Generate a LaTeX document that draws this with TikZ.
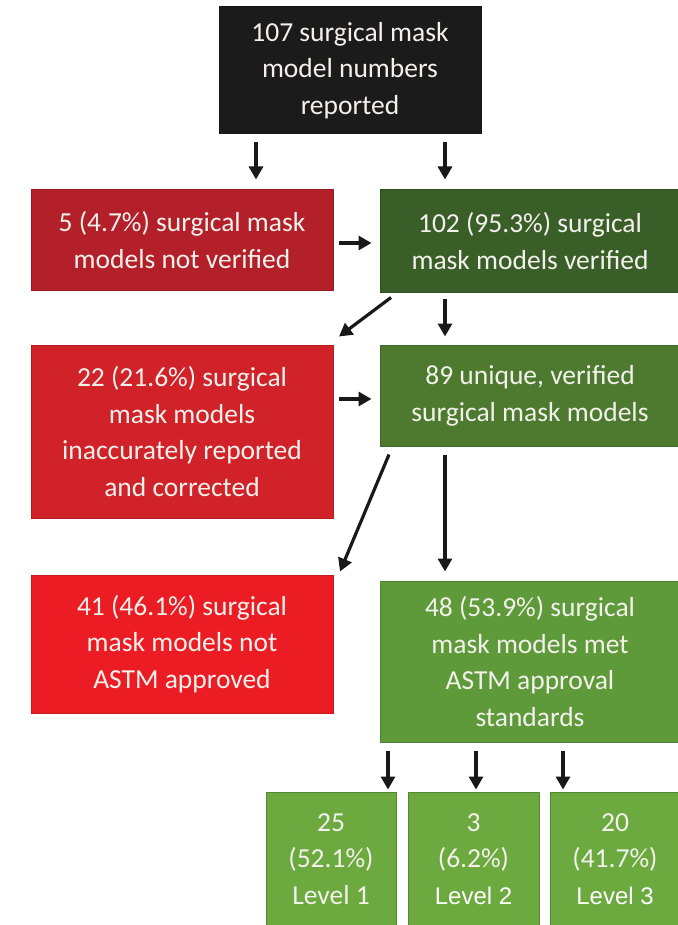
\documentclass[tikz,border=0pt]{standalone}
\usepackage{fontspec}
\setmainfont{Carlito}
\newfontfamily\arialfont{Liberation Sans}
\usetikzlibrary{calc,arrows.meta}

\definecolor{blackbox}{HTML}{1B1B1B}
\definecolor{redA}{HTML}{B3202A}
\definecolor{redB}{HTML}{D1222A}
\definecolor{redC}{HTML}{EC1C24}
\definecolor{greenA}{HTML}{3A5E28}
\definecolor{greenB}{HTML}{4E7A30}
\definecolor{greenC}{HTML}{5E9A3A}
\definecolor{greenD}{HTML}{6CAA40}
\definecolor{boxtext}{HTML}{F3F1EC}

\tikzset{
  box/.style={rectangle, inner sep=0pt, align=center, text=boxtext,
    font=\fontsize{27.5}{36.7}\selectfont, line width=1pt},
  arr/.style={draw=black!90, line width=3.2pt, -{Triangle[length=13pt,width=14pt]}},
}

\begin{document}
\begin{tikzpicture}[x=1pt,y=-1pt]
  \useasboundingbox[fill=white] (0,0) rectangle (677,925);

  % boxes
  \node[box, fill=blackbox, draw=blackbox!80!black, minimum width=262pt, minimum height=127pt]
    (top) at (350,70.5) {107 surgical mask\\model numbers\\reported};
  \node[box, fill=redA, draw=redA!85!black, minimum width=302pt, minimum height=100pt]
    (red1) at (182,240) {5 (4.7\%) surgical mask\\models not verified};
  \node[box, fill=greenA, draw=greenA!85!black, minimum width=300pt, minimum height=102pt]
    (green1) at (530,241) {102 (95.3\%) surgical\\mask models verified};
  \node[box, fill=redB, draw=redB!85!black, minimum width=302pt, minimum height=173pt]
    (red2) at (182,431.5) {22 (21.6\%) surgical\\mask models\\inaccurately reported\\and corrected};
  \node[box, fill=greenB, draw=greenB!85!black, minimum width=300pt, minimum height=101pt]
    (green2) at (530,395.5) {89 unique, verified\\surgical mask models};
  \node[box, fill=redC, draw=redC!85!black, minimum width=302pt, minimum height=138pt]
    (red3) at (182,644) {41 (46.1\%) surgical\\mask models not\\ASTM approved};
  \node[box, fill=greenC, draw=greenC!85!black, minimum width=300pt, minimum height=161pt]
    (green3) at (530,661.5) {48 (53.9\%) surgical\\mask models met\\ASTM approval\\standards};
  \node[box, fill=greenD, draw=greenD!80!black, minimum width=130pt, minimum height=134pt]
    (lv1) at (331,859) {25\\(52.1\%)\\Level 1};
  \node[box, fill=greenD, draw=greenD!80!black, minimum width=131pt, minimum height=134pt]
    (lv2) at (473.5,859) {3\\(6.2\%)\\{\arialfont\fontsize{24}{36.7}\selectfont\color{white}Level 2}};
  \node[box, fill=greenD, draw=greenD!80!black, minimum width=130pt, minimum height=134pt]
    (lv3) at (615,859) {20\\(41.7\%)\\{\arialfont\fontsize{24}{36.7}\selectfont\color{white}Level 3}};

  % connectors
  \draw[arr] ($(top.south)+(-94,8)$) -- ($(red1.north)+(74,-10)$);
  \draw[arr] ($(top.south)+(95,8)$) -- ($(green1.north)+(-85,-10)$);
  \draw[arr] ($(red1.east)+(5,3)$) -- ($(green1.west)+(-8,2)$);
  \draw[arr] ($(green1.south)+(-139,5)$) -- ($(red2.north)+(157,-8)$);
  \draw[arr] ($(green1.south)+(-85,6)$) -- ($(green2.north)+(-85,-8)$);
  \draw[arr] ($(red2.east)+(5,-32.5)$) -- ($(green2.west)+(-8,3.5)$);
  \draw[arr] ($(green2.south)+(-141,8)$) -- ($(red3.north)+(158,-3)$);
  \draw[arr] ($(green2.south)+(-85,8)$) -- ($(green3.north)+(-85,-9)$);
  \draw[arr] ($(green3.south)+(-142,8)$) -- ($(lv1.north)+(57,-2)$);
  \draw[arr] ($(green3.south)+(-54,8)$) -- ($(lv2.north)+(2.5,-2)$);
  \draw[arr] ($(green3.south)+(33,8)$) -- ($(lv3.north)+(-52,-2)$);
\end{tikzpicture}
\end{document}
